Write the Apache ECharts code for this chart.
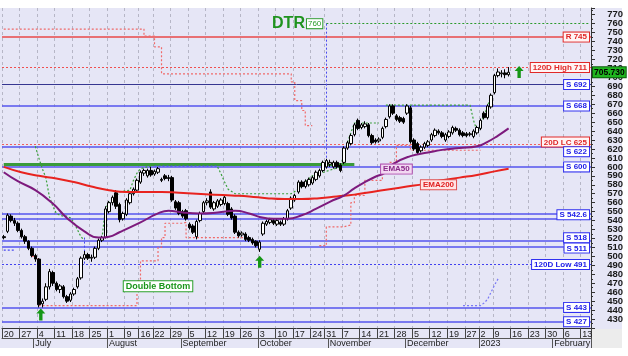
<!DOCTYPE html>
<html><head><meta charset="utf-8">
<script src="https://cdn.jsdelivr.net/npm/echarts@6/dist/echarts.min.js"></script>
<style>html,body{margin:0;padding:0;background:#fff}#c{width:628px;height:356px}</style>
</head><body><div id="c"></div>
<script>
const F = "'Liberation Sans', Arial, sans-serif";

// ---- categories: trading weeks (start date, trading days in week) ----
const weekStarts = ['2022-06-20','2022-06-27','2022-07-04','2022-07-11','2022-07-18','2022-07-25','2022-08-01','2022-08-09','2022-08-16','2022-08-22','2022-08-29','2022-09-05','2022-09-12','2022-09-19','2022-09-26','2022-10-03','2022-10-10','2022-10-17','2022-10-24','2022-10-31','2022-11-07','2022-11-14','2022-11-21','2022-11-28','2022-12-05','2022-12-12','2022-12-19','2022-12-27','2023-01-02','2023-01-09','2023-01-16','2023-01-23','2023-01-30','2023-02-06','2023-02-13'];
const weekDays = [5,5,5,5,5,5,5,4,4,5,5,5,5,5,5,5,5,5,4,5,5,5,5,5,5,5,5,4,4,5,5,5,5,5,3];
const monthNames = ['January','February','March','April','May','June','July','August','September','October','November','December'];

// ---- daily candles [open, close, low, high] ----
const candles = [
[522,521,519,524],[528,546,526,548],[545,540,538,547],[540,537,534,543],[537,529,527,539],
[529,522,520,531],[522,517,514,524],[517,509,507,518],[509,501,499,511],[501,497,494,503],
[497,446,443,498],[447,450,443,453],[452,466,450,470],[466,483,463,486],[482,470,467,484],
[470,463,461,472],[463,467,459,469],[466,455,453,468],[455,450,448,457],[451,458,449,460],
[458,463,456,465],[466,475,464,477],[476,498,474,500],[498,502,496,506],[502,498,496,504],
[498,499,494,502],[499,509,497,511],[509,518,507,520],[518,521,516,523],[521,553,520,556],
[550,560,548,562],[560,566,557,568],[571,556,553,574],[558,541,538,560],[542,548,540,550],
[547,563,545,565],[560,570,558,572],[570,575,568,577],[574,585,572,587],[583,594,581,596],
[593,596,590,598],[590,596,588,598],[596,591,589,600],[592,595,590,597],[594,598,592,600],
[586,585,583,588],[590,587,585,592],[588,587,584,591],[588,563,561,590],[561,554,552,563],
[560,548,546,562],[550,545,543,552],[551,542,540,553],[536,532,530,538],[534,527,525,536],
[522,539,519,541],[540,548,538,550],[550,560,548,562],[560,562,557,565],[572,555,553,575],
[553,560,551,562],[556,562,554,564],[558,563,556,565],[559,566,557,568],[559,547,545,561],
[553,543,541,555],[545,527,525,547],[527,523,521,529],[524,526,522,528],[525,519,517,527],
[521,518,516,523],[519,515,513,521],[517,512,510,518],[508,516,505,518],[525,537,523,539],
[536,539,534,541],[538,541,536,543],[540,537,535,542],[536,540,534,542],[538,536,534,540],
[536,542,534,544],[542,551,540,553],[554,565,552,567],[563,568,561,570],[572,583,570,585],
[583,578,576,585],[578,584,576,586],[580,586,578,588],[582,588,580,590],[586,594,584,596],
[590,596,588,598],[596,605,594,607],[600,607,598,609],[603,605,600,608],[600,605,598,607],
[605,600,598,607],[602,596,594,604],[605,621,603,623],[621,627,619,629],[626,635,624,637],
[636,647,634,649],[652,643,641,654],[644,647,642,649],[645,648,643,651],[647,635,633,649],
[635,627,625,637],[630,628,626,632],[629,631,627,633],[633,643,631,645],[645,653,643,655],
[656,668,654,670],[668,660,658,670],[657,653,651,659],[655,651,649,657],[654,650,648,656],
[660,668,658,670],[666,628,626,668],[630,620,618,632],[626,616,614,628],[618,622,616,624],
[622,626,620,628],[624,628,622,630],[630,636,628,638],[635,641,633,643],[640,638,636,642],
[638,634,632,640],[630,636,628,638],[634,639,632,641],[638,644,636,646],[643,641,639,645],
[641,636,634,643],[638,635,633,640],[637,635,633,639],[636,637,634,639],[634,640,632,642],
[638,644,636,646],[643,652,641,654],[660,655,653,662],[655,668,653,670],[667,680,665,682],
[683,702,681,704],[702,706,700,710],[704,705,700,708],[705,703,699,709],[703,705.73,701,711.5]
];
const lastClose = 705.73;

// ---- moving averages [dayIndex, value] ----
const ema50Pts = [[0,594],[4,584],[9,574],[14,559],[18,543],[23,528],[27,521],[30,522],[33,527],[39,538],[44,548],[47,551],[51,549],[56,548],[61,549],[66,551],[70,548],[73,544],[77,542],[81,542],[85,546],[89,553],[93,561],[97,568],[100,576],[103,583],[106,589],[109,594],[111,603],[116,612],[121,616],[125,619],[130,621],[135,623],[138,628],[141,635],[144,643]];
const ema200Pts = [[0,600],[5,594],[10,590],[15,587],[20,583],[25,578],[30,574],[35,572],[40,572],[45,572],[50,571],[55,570],[60,569],[65,568],[70,567],[75,565],[80,564],[85,564],[90,565],[95,567],[100,569],[105,572],[110,575],[115,578],[120,581],[125,585],[130,588],[135,591],[140,595],[144,598]];

// ---- trailing dotted lines [dayIndex, value] ----
const redTopPts = [[0,754],[39,754],[40,746],[42,746],[43,734],[44,734],[45,704],[81,704],[82,695],[83,674],[84,674],[85,663],[86,646],[88,646]];
const redLcPts1 = [[8,500],[9,497],[10,445],[37,445],[38,473],[39,495],[43,495],[44,510],[45,521],[46,537],[51,538],[52,521],[69,521]];
const redLcPts2 = [[90,512],[92,533],[97,535],[99,560],[100,568],[103,585],[108,593],[110,605],[112,624],[115,624],[116,618.6],[136,618.6]];
const greenPtsA = [[9,623],[10,610],[11,598],[12,588],[13,567],[14,556],[15,548],[16,546],[17,545],[18,545],[19,543],[20,538],[21,530],[22,522],[23,518]];
const greenPtsB = [[28,520],[29,553],[30,560],[32,566],[33,572],[36,574],[37,585],[38,593],[39,598],[42,601]];
const greenPtsC = [[61,600],[62,592],[63,583],[64,575],[66,570],[82,570],[84,575],[85,580],[88,590],[96,600],[98,627],[100,649],[107,649]];
const greenPtsD = [[109,669],[133,669],[134,652],[135,640],[136,648],[137,657],[138,668],[139,680]];
const bluePtsFlat = [[43,601],[61,601]];
const bluePtsLeft = [[0,507],[3,507]];
const bluePtsRise = [[131,445],[136,445],[137,448],[138,452],[139,460],[140,468],[141,475]];

// ---- horizontal levels ----
const supportLevels = [692, 668, 622, 600, 548, 542.6, 518, 511, 443, 427];
const supportLabels = ['S 692','S 668','S 622','S 600','','S 542.6','S 518','S 511','S 443','S 427'];
const resistance = 745, high120 = 711, low120 = 491, lc20 = 625, dtrTarget = 760, greenLevel = 603;
const dtrStartIdx = 92, greenLevelEndIdx = 100, breakIdx = 23;
const arrowPts = [[10,435],[73,494],[147,706]];

// ---- build categories ----
const dates = [];
weekStarts.forEach((ws, w) => {
  const t0 = Date.parse(ws + 'T00:00:00Z');
  for (let k = 0; k < weekDays[w]; k++) dates.push(new Date(t0 + k * 86400000).toISOString().slice(0, 10));
});
const weekSet = new Set(weekStarts);
const monthStart = new Set();
dates.forEach((d, i) => { if (i > 0 && d.slice(5, 7) !== dates[i - 1].slice(5, 7)) monthStart.add(i); });
const monthLabel = d => { const m = +d.slice(5, 7); return m === 1 ? d.slice(0, 4) : monthNames[m - 1]; };

function boxLabel(text, color, border, bg, pos, dist) {
  return {show: true, position: pos || 'insideEnd', distance: dist || [2, 0], formatter: text, color: color,
    fontSize: 8, fontWeight: 'bold', fontFamily: F, backgroundColor: bg, borderColor: border, borderWidth: 1, padding: [1, 2, 0, 2]};
}
const RED = '#e02828', BLUE = '#2020e8';
const labelPlace = {622: ['insideEndBottom', [2, 0]], 542.6: ['insideEndTop', [2, -1]], 518: ['insideEndTop', [2, -2]], 511: ['insideEndBottom', [2, -3]]};
const ml = [];
ml.push({yAxis: lc20, lineStyle: {color: '#f06060', width: 1, type: [2, 2]}, label: boxLabel('20D LC ' + lc20, RED, RED, '#fff4f4', 'insideEndTop', [2, -2])});
ml.push({yAxis: resistance, lineStyle: {color: '#e94848', width: 1.5, type: 'solid'}, label: boxLabel('R ' + resistance, RED, RED, '#fff4f4')});
ml.push({yAxis: high120, lineStyle: {color: '#f05050', width: 1, type: [2, 2]}, label: boxLabel('120D High ' + high120, RED, RED, '#fff4f4')});
ml.push({yAxis: low120, lineStyle: {color: '#4040f0', width: 1, type: [2, 2]}, label: boxLabel('120D Low ' + low120, BLUE, '#3030f0', '#ffffff')});
supportLevels.forEach((v, k) => {
  const lab = supportLabels[k];
  const place = labelPlace[v] || ['insideEnd', [2, 0]];
  ml.push({yAxis: v, lineStyle: {color: v === 692 ? '#363690' : '#5555ee', width: v === 692 ? 1 : 1.6, type: 'solid'},
    label: lab ? boxLabel(lab, BLUE, '#3030f0', '#ffffff', place[0], place[1]) : {show: false}});
});
ml.push([{coord: [dtrStartIdx, dtrTarget], lineStyle: {color: '#2a9a2a', width: 1, type: [2, 2]},
  label: {show: true, position: 'start', distance: [4, 0], formatter: '{a|DTR}{b|' + dtrTarget + '}',
    rich: {a: {fontSize: 16, fontWeight: 'bold', color: '#1f931f', fontFamily: F, padding: [0, 2, 0, 0]},
           b: {fontSize: 8, color: '#2a9a2a', fontFamily: F, borderColor: '#2a9a2a', borderWidth: 1, backgroundColor: '#ffffff', padding: [1, 1, 0, 1]}}}},
  {coord: [dates.length - 1, dtrTarget]}]);
ml.push([{coord: [0, greenLevel], lineStyle: {color: '#3a9a3a', width: 3, type: 'solid'}, label: {show: false}}, {coord: [greenLevelEndIdx, greenLevel]}]);
ml.push([{coord: [dtrStartIdx, dtrTarget], lineStyle: {color: '#4a4af0', width: 1, type: [2, 2]}, label: {show: false}}, {coord: [dtrStartIdx, 600]}]);
ml.push([{coord: [breakIdx, 521], lineStyle: {color: '#4a4af0', width: 1, type: [2, 2]}, label: {show: false}}, {coord: [breakIdx, low120]}]);

const arrowPath = 'path://M4,0 L8,5 L5.5,5 L5.5,12 L2.5,12 L2.5,5 L0,5 Z';
const mp = arrowPts.map((p, k) => ({coord: p, symbol: arrowPath, symbolSize: [9, 12], symbolOffset: k === 0 ? [2, 0] : [0, 0], itemStyle: {color: '#169616'}, label: {show: false}}));
function textMark(coord, text, color, border, bg, fs) {
  return {coord: coord, symbol: 'rect', symbolSize: 1, itemStyle: {color: 'rgba(0,0,0,0)'},
    label: {show: true, position: 'inside', formatter: text, color: color, fontSize: fs || 8, fontWeight: 'bold', fontFamily: F,
      backgroundColor: bg, borderColor: border, borderWidth: 1, padding: [1, 2, 0, 2]}};
}
mp.push(textMark([44, 466.7], 'Double Bottom', '#1a961a', '#2aa02a', '#ffffff', 9));
mp.push(textMark([112, 597.5], 'EMA50', '#8a2a8a', '#b050b0', '#f2d8f2'));
mp.push(textMark([124, 580], 'EMA200', '#e02020', '#e05050', '#ffe4e4'));

function dotted(pts, color, step, w) {
  return {type: 'line', data: pts, symbol: 'none', step: step || false, silent: true, z: 2,
    lineStyle: {type: [2, 2], width: w || 1.2, color: color}};
}

const chart = echarts.init(document.getElementById('c'), null, {renderer: 'canvas'});
const option = {
  animation: false,
  backgroundColor: '#e6e6f6',
  textStyle: {fontFamily: F},
  grid: {left: 2, right: 37, top: 8, bottom: 28},
  xAxis: [{
    type: 'category', data: dates, boundaryGap: true,
    axisLine: {lineStyle: {color: '#333', width: 1}},
    axisTick: {show: true, interval: (i, v) => weekSet.has(v), length: 10, lineStyle: {color: '#444'}},
    axisLabel: {interval: (i, v) => weekSet.has(v), formatter: v => String(+v.slice(8, 10)), align: 'left', margin: 2, fontSize: 9, color: '#222', fontFamily: F},
    splitLine: {show: true, interval: (i, v) => weekSet.has(v), lineStyle: {type: [3, 3], color: '#b6b6c6'}}
  }, {
    type: 'category', data: dates, boundaryGap: true, position: 'bottom', offset: 10,
    axisLine: {lineStyle: {color: '#555', width: 1}},
    axisTick: {show: true, interval: i => monthStart.has(i), length: 10, lineStyle: {color: '#555'}},
    axisLabel: {interval: i => monthStart.has(i), formatter: v => monthLabel(v), align: 'left', margin: 1, fontSize: 9, color: '#222', fontFamily: F},
    splitLine: {show: false}
  }],
  yAxis: {
    type: 'value', position: 'right', min: 420, max: 777.5, interval: 10,
    axisLine: {show: true, lineStyle: {color: '#333'}},
    axisTick: {show: true, length: 4, lineStyle: {color: '#333'}},
    minorTick: {show: true, splitNumber: 2, length: 2, lineStyle: {color: '#333'}},
    axisLabel: {align: 'right', margin: 32, fontSize: 9.5, fontWeight: 'bold', color: '#1a1a1a', showMinLabel: false, showMaxLabel: false, fontFamily: F},
    splitLine: {show: false}
  },
  graphic: [
    {id: 'wt', type: 'rect', shape: {x: 0, y: 0, width: 628, height: 8}, style: {fill: '#ffffff'}, silent: true},
    {id: 'wr', type: 'rect', shape: {x: 622, y: 0, width: 6, height: 356}, style: {fill: '#ffffff'}, silent: true},
    {id: 'wb', type: 'rect', shape: {x: 0, y: 348, width: 628, height: 8}, style: {fill: '#ffffff'}, silent: true},
    {id: 'gb', type: 'rect', shape: {x: 591, y: 329, width: 31, height: 19}, style: {fill: '#ececec'}, silent: true}
  ],
  series: [
    {type: 'line', data: [], symbol: 'none', silent: true, z: 1,
     markLine: {symbol: ['none', 'none'], silent: true, animation: false, z: 1, data: ml},
     markPoint: {silent: true, animation: false, z: 6, data: mp}},
    dotted(redTopPts, '#f06a6a', 'end'),
    dotted(redLcPts1, '#f06a6a', 'end'),
    dotted(redLcPts2, '#f06a6a', 'end'),
    dotted(greenPtsA, '#3aa03a'),
    dotted(greenPtsB, '#3aa03a'),
    dotted(greenPtsC, '#3aa03a'),
    dotted(greenPtsD, '#3aa03a'),
    dotted(bluePtsFlat, '#4a4af0'),
    dotted(bluePtsLeft, '#4a4af0'),
    dotted(bluePtsRise, '#7a7af5'),
    {type: 'candlestick', data: candles, barWidth: 3, z: 3,
     itemStyle: {color: '#ffffff', color0: '#000000', borderColor: '#000000', borderColor0: '#000000', borderWidth: 1}},
    {type: 'line', data: ema200Pts, smooth: true, symbol: 'none', z: 4, silent: true, lineStyle: {color: '#e8231f', width: 2}},
    {type: 'line', data: ema50Pts, smooth: true, symbol: 'none', z: 4, silent: true, lineStyle: {color: '#7d1a7d', width: 2}}
  ]
};
chart.setOption(option);
const py = chart.convertToPixel({yAxisIndex: 0}, lastClose);
chart.setOption({graphic: [{id: 'tag', type: 'text', x: 593, y: py, z: 10,
  style: {text: lastClose.toFixed(3), fill: '#000', backgroundColor: '#1fb51f', borderColor: '#0d5d0d', borderWidth: 1,
    padding: [1, 1, 0, 1], font: 'bold 8.5px ' + F, verticalAlign: 'middle', align: 'left'}}]});
</script></body></html>
